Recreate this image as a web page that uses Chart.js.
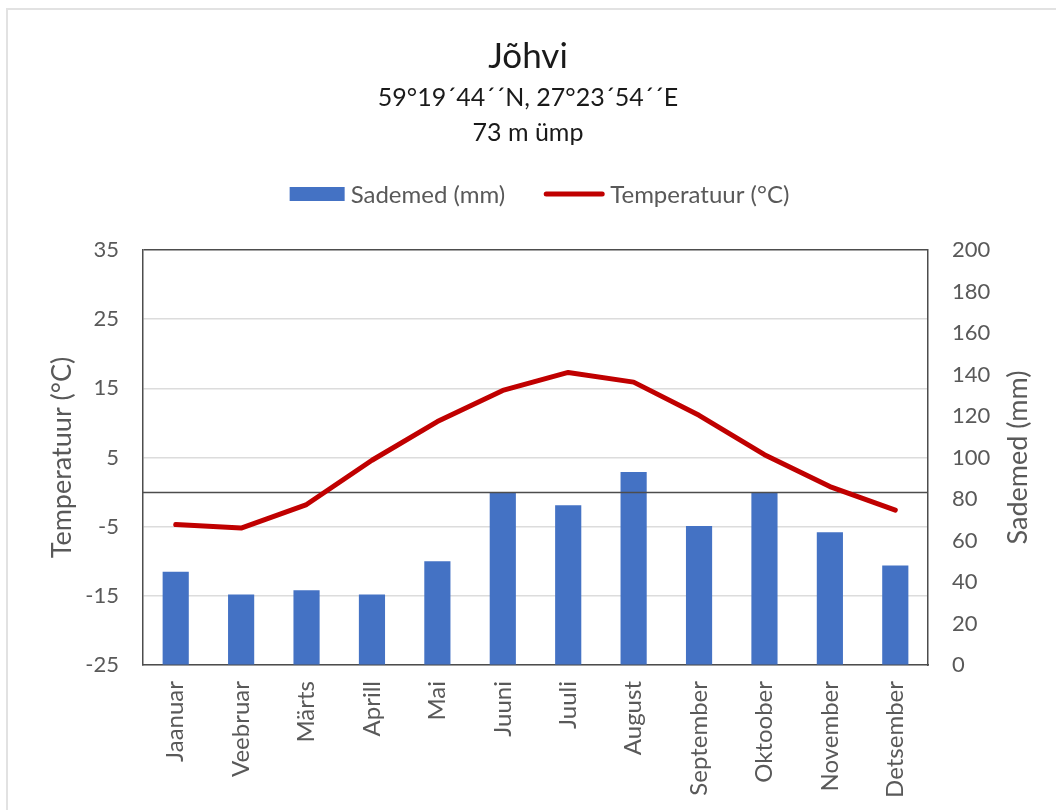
<!DOCTYPE html>
<html>
<head>
<meta charset="utf-8">
<script src="https://cdn.jsdelivr.net/npm/chart.js@4.4.1/dist/chart.umd.min.js"></script>
<style>
  html, body { margin: 0; padding: 0; background: #ffffff; }
  #wrap { position: relative; width: 1056px; height: 810px; overflow: hidden; }
  #frame { position: absolute; left: 6px; top: 8px; width: 1200px; height: 1000px;
           border-top: 2px solid #e2e2e2; border-left: 2px solid #e2e2e2; }
  canvas { position: absolute; left: 0; top: 0; }
</style>
</head>
<body>
<div id="wrap">
  <div id="frame"></div>
  <canvas id="climate" width="1056" height="810"></canvas>
</div>
<script>
// Monthly climate normals for Jõhvi
const months = ['Jaanuar', 'Veebruar', 'Märts', 'Aprill', 'Mai', 'Juuni',
                'Juuli', 'August', 'September', 'Oktoober', 'November', 'Detsember'];
const precipitation = [45, 34, 36, 34, 50, 83, 77, 93, 67, 83, 64, 48];      // mm
const temperature = [-4.7, -5.2, -1.8, 4.6, 10.2, 14.7, 17.3, 15.9, 11.1, 5.4, 0.8, -2.6]; // °C
const temperatureTicks = [-25, -15, -5, 5, 15, 25, 35];
const precipitationTicks = [0, 20, 40, 60, 80, 100, 120, 140, 160, 180, 200];

const titleText = 'Jõhvi';
const subtitleLines = ['59°19´44´´N, 27°23´54´´E', '73 m ümp'];
const precipLabel = 'Sademed (mm)';
const tempLabel = 'Temperatuur (°C)';

const FONT = 'Lato';
const GREY_TEXT = '#595959';
const DARK_LINE = '#4d4d4d';
const GRID = '#dcdcdc';

// Freezing line: drawn above the bars, below the temperature curve
const freezingLine = {
  id: 'freezingLine',
  afterDatasetDraw(chart, args) {
    if (chart.data.datasets[args.index].type !== 'bar') return;
    const { ctx, chartArea } = chart;
    const y = Math.round(chart.scales.yT.getPixelForValue(0)) + 0.5;
    ctx.save();
    ctx.strokeStyle = DARK_LINE;
    ctx.lineWidth = 1.5;
    ctx.beginPath();
    ctx.moveTo(chartArea.left, y);
    ctx.lineTo(chartArea.right, y);
    ctx.stroke();
    ctx.restore();
  }
};

// Series key above the plot and the right-hand axis caption (reading upward)
const seriesKey = {
  id: 'seriesKey',
  afterDraw(chart) {
    const { ctx, chartArea } = chart;
    ctx.save();
    ctx.font = '24px ' + FONT;
    ctx.textBaseline = 'middle';
    ctx.textAlign = 'left';
    const items = chart.data.datasets.map(ds => ({
      text: ds.label,
      isLine: ds.type === 'line',
      color: ds.type === 'line' ? ds.borderColor : ds.backgroundColor,
      sw: ds.type === 'line' ? 60 : 55
    }));
    const gap = 6, spacing = 39;
    let total = 0;
    items.forEach((it, i) => {
      it.w = ctx.measureText(it.text).width;
      total += it.sw + gap + it.w + (i ? spacing : 0);
    });
    let x = (chartArea.left + chartArea.right) / 2 + 4 - total / 2;
    const y = chartArea.top - 56;
    items.forEach(it => {
      if (it.isLine) {
        ctx.strokeStyle = it.color;
        ctx.lineWidth = 5;
        ctx.lineCap = 'round';
        ctx.beginPath();
        ctx.moveTo(x + 2, y);
        ctx.lineTo(x + it.sw - 2, y);
        ctx.stroke();
      } else {
        ctx.fillStyle = it.color;
        ctx.fillRect(x, y - 7, it.sw, 14);
      }
      x += it.sw + gap;
      ctx.fillStyle = GREY_TEXT;
      ctx.fillText(it.text, x, y + 1);
      x += it.w + spacing;
    });

    // right axis caption
    const yP = chart.scales.yP;
    ctx.save();
    ctx.font = '27px ' + FONT;
    ctx.translate(yP.right - 38, (chartArea.top + chartArea.bottom) / 2);
    ctx.rotate(-Math.PI / 2);
    ctx.textAlign = 'center';
    ctx.fillStyle = GREY_TEXT;
    ctx.fillText(precipLabel, 0, 0);
    ctx.restore();
    ctx.restore();
  }
};

new Chart(document.getElementById('climate'), {
  data: {
    labels: months,
    datasets: [
      {
        type: 'bar',
        label: precipLabel,
        data: precipitation,
        yAxisID: 'yP',
        backgroundColor: '#4472C4',
        barPercentage: 0.4,
        categoryPercentage: 1,
        order: 1
      },
      {
        type: 'line',
        label: tempLabel,
        data: temperature,
        yAxisID: 'yT',
        borderColor: '#C00000',
        backgroundColor: '#C00000',
        borderWidth: 5,
        pointRadius: 0,
        tension: 0,
        borderCapStyle: 'round',
        borderJoinStyle: 'round',
        order: 0
      }
    ]
  },
  options: {
    responsive: false,
    animation: false,
    layout: { padding: { top: 0, left: 0, right: 0, bottom: 0 } },
    plugins: {
      legend: { display: false },
      tooltip: { enabled: false },
      title: {
        display: true,
        text: titleText,
        color: '#1a1a1a',
        font: { family: FONT, size: 35, weight: 'normal', lineHeight: 1.2 },
        padding: { top: 36, bottom: 2.5 }
      },
      subtitle: {
        display: true,
        text: subtitleLines,
        color: '#1a1a1a',
        font: { family: FONT, size: 25, weight: 'normal', lineHeight: 35 / 25 },
        padding: { top: 0, bottom: 99.5 }
      }
    },
    scales: {
      x: {
        position: 'bottom',
        grid: { display: false, drawTicks: false },
        border: { display: true, color: DARK_LINE, width: 1.5 },
        ticks: {
          color: GREY_TEXT,
          font: { family: FONT, size: 24 },
          minRotation: 90,
          maxRotation: 90,
          autoSkip: false,
          padding: 16
        },
        afterFit(s) { s.height = 145; }
      },
      yT: {
        position: 'left',
        min: -25,
        max: 35,
        afterBuildTicks(s) { s.ticks = temperatureTicks.map(v => ({ value: v })); },
        grid: {
          drawTicks: false,
          lineWidth: 1.5,
          color: c => (c.tick && c.tick.value === 35 ? DARK_LINE : GRID)
        },
        border: { display: true, color: DARK_LINE, width: 1.5 },
        ticks: { color: GREY_TEXT, font: { family: FONT, size: 22 }, padding: 24 },
        title: {
          display: true,
          text: tempLabel,
          color: GREY_TEXT,
          font: { family: FONT, size: 27, lineHeight: 1.2 },
          padding: { top: 45.8, bottom: 0 }
        },
        afterFit(s) { s.width = 143; }
      },
      yP: {
        position: 'right',
        min: 0,
        max: 200,
        afterBuildTicks(s) { s.ticks = precipitationTicks.map(v => ({ value: v })); },
        grid: { drawOnChartArea: false, drawTicks: false },
        border: { display: true, color: DARK_LINE, width: 1.5 },
        ticks: { color: GREY_TEXT, font: { family: FONT, size: 22 }, padding: 24 },
        afterFit(s) { s.width = 128; }
      }
    }
  },
  plugins: [freezingLine, seriesKey]
});
</script>
</body>
</html>
